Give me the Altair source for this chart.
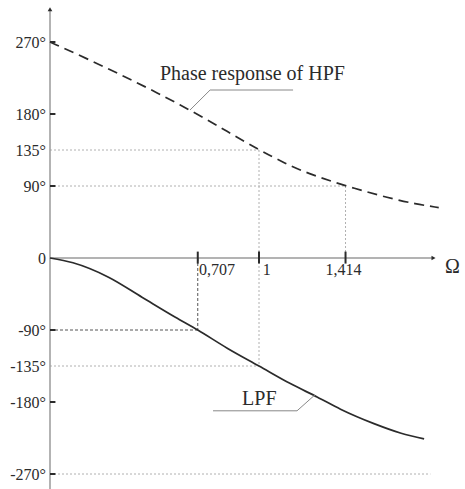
import altair as alt
import pandas as pd

# ---- data ----
omega_lpf = [0, 0.11, 0.28, 0.44, 0.6, 0.707, 0.85, 1.0, 1.15, 1.28, 1.39, 1.55, 1.68, 1.79]
phase_lpf = [0, -6, -24, -49, -74, -90, -113, -135, -157, -174, -189, -207, -219, -226]

omega_hpf = [0, 0.17, 0.34, 0.51, 0.683, 0.85, 1.0, 1.12, 1.23, 1.414, 1.62, 1.75, 1.86]
phase_hpf = [270, 250, 229, 207, 183, 158, 135, 119, 106, 90, 75, 67.5, 63]

y_tick_values = [270, 180, 135, 90, 0, -90, -135, -180, -270]
y_tick_labels = ["270°", "180°", "135°", "90°", "0", "-90°", "-135°", "-180°", "-270°"]
y_tick_marks = [270, 180, 90, -90, -180, -270]

x_tick_values = [0.707, 1, 1.414]
x_tick_labels = ["0,707", "1", "1,414"]
x_label_anchor = [0.713, 1.018, 1.318]

# guide segments (omega1, phase1, omega2, phase2)
light_guides = [
    (0, 135, 1, 135),
    (0, 90, 1.414, 90),
    (1, 135, 1, -135),
    (1.414, 90, 1.414, 0),
    (0, -135, 1, -135),
    (0, -270, 1.82, -270),
]
dark_guides = [
    (0, -90, 0.707, -90),
    (0.707, 0, 0.707, -90),
]

FONT = "Liberation Serif"
INK = "#2b2b2b"
AXIS = "#9a9a9a"
GUIDE = "#b0b0b0"

xs = alt.Scale(domain=[-50 / 209, 415 / 209], nice=False, zero=False)
ys = alt.Scale(domain=[-231 / 0.8, 258 / 0.8], nice=False, zero=False)


def X(f):
    return alt.X(f, type="quantitative", scale=xs, axis=None)


def Y(f):
    return alt.Y(f, type="quantitative", scale=ys, axis=None)


def seg_df(segs):
    return pd.DataFrame(segs, columns=["x1", "y1", "x2", "y2"])


lpf = pd.DataFrame({"w": omega_lpf, "p": phase_lpf})
hpf = pd.DataFrame({"w": omega_hpf, "p": phase_hpf})

layers = []

# guides
layers.append(
    alt.Chart(seg_df(light_guides)).mark_rule(color=GUIDE, strokeWidth=1, strokeDash=[2, 2])
    .encode(x=X("x1"), x2="x2", y=Y("y1"), y2="y2")
)
layers.append(
    alt.Chart(seg_df(dark_guides)).mark_rule(color="#555", strokeWidth=1, strokeDash=[3, 2])
    .encode(x=X("x1"), x2="x2", y=Y("y1"), y2="y2")
)

# axes lines
axes = seg_df([(0, -288.75, 0, 310), (0, 0, 1.83, 0)])
layers.append(
    alt.Chart(axes).mark_rule(color=AXIS, strokeWidth=1.5)
    .encode(x=X("x1"), x2="x2", y=Y("y1"), y2="y2")
)
arrows = pd.DataFrame({"x": [0, 1.835], "y": [311, 0], "s": ["triangle-up", "triangle-right"]})
layers.append(
    alt.Chart(arrows).mark_point(filled=True, size=22, color=INK, opacity=1)
    .encode(x=X("x"), y=Y("y"),
            shape=alt.Shape("s:N", scale=alt.Scale(domain=["triangle-up", "triangle-right"],
                                                   range=["triangle-up", "triangle-right"]), legend=None))
)

# y tick marks
ytm = pd.DataFrame({"y": y_tick_marks})
layers.append(
    alt.Chart(ytm).mark_rule(color=INK, strokeWidth=2)
    .encode(x=X("x0:Q"), x2=alt.X2("x1:Q"), y=Y("y"))
    .transform_calculate(x0="0", x1="0.026")
)
# x tick marks
xtm = pd.DataFrame({"x": x_tick_values})
layers.append(
    alt.Chart(xtm).mark_rule(color=INK, strokeWidth=2)
    .encode(x=X("x"), y=Y("y0:Q"), y2=alt.Y2("y1:Q"))
    .transform_calculate(y0="8", y1="-7")
)

# curves
layers.append(
    alt.Chart(hpf).mark_line(color=INK, strokeWidth=1.7, strokeDash=[10, 6], interpolate="basis")
    .encode(x=X("w"), y=Y("p"), order="w:Q")
)
layers.append(
    alt.Chart(lpf).mark_line(color=INK, strokeWidth=1.7, interpolate="monotone")
    .encode(x=X("w"), y=Y("p"), order="w:Q")
)

# leader lines
leaders = pd.DataFrame({
    "w": [0.67, 0.766, 1.163, 0.78, 1.182, 1.268],
    "p": [185, 210, 210, -191, -191, -171],
    "g": ["h", "h", "h", "l", "l", "l"],
    "o": [0, 1, 2, 0, 1, 2],
})
layers.append(
    alt.Chart(leaders).mark_line(color="#888", strokeWidth=1)
    .encode(x=X("w"), y=Y("p"), detail="g:N", order="o:Q")
)

# y labels
ylab = pd.DataFrame({"y": y_tick_values, "t": y_tick_labels})
layers.append(
    alt.Chart(ylab).mark_text(font=FONT, fontSize=16, color=INK, align="right", baseline="middle", dy=1)
    .encode(x=alt.value(46), y=Y("y"), text="t:N")
)
# x labels
xlab = pd.DataFrame({"x": x_label_anchor, "t": x_tick_labels})
layers.append(
    alt.Chart(xlab).mark_text(font=FONT, fontSize=16, color=INK, align="left", baseline="alphabetic")
    .encode(x=X("x"), y=Y("yy:Q"), text="t:N")
    .transform_calculate(yy="-21.5")
)

# annotations
ann = pd.DataFrame({
    "w": [0.526, 0.919, 1.89],
    "p": [222.5, -184, -19],
    "t": ["Phase response of HPF", "LPF", "Ω"],
})
layers.append(
    alt.Chart(ann).mark_text(font=FONT, fontSize=20, color=INK, align="left", baseline="alphabetic")
    .encode(x=X("w"), y=Y("p"), text="t:N")
)

chart = alt.layer(*layers).properties(
    width=465, height=489, padding=0,
    autosize=alt.AutoSizeParams(type="none"),
    background="white",
).configure_view(stroke=None)

chart.save("out.html", embed_options={"renderer": "svg", "actions": False})
